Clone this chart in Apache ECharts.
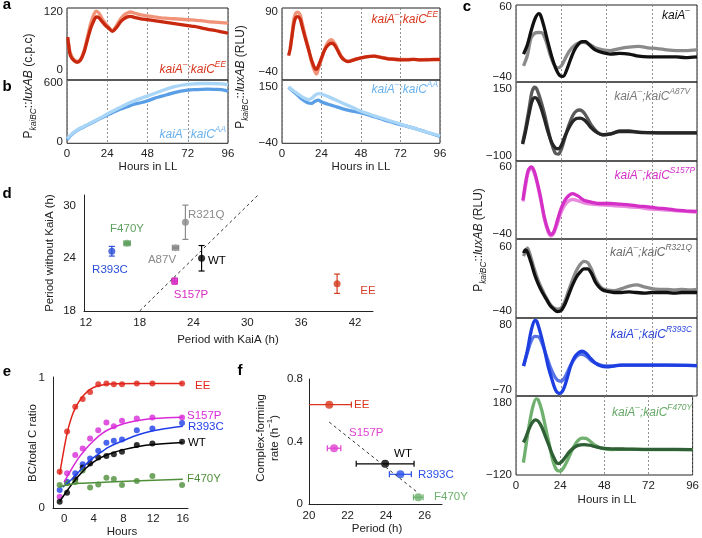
<!DOCTYPE html>
<html>
<head>
<meta charset="utf-8">
<script src="https://cdn.jsdelivr.net/npm/echarts@6/dist/echarts.min.js"></script>
<style>
  html, body { margin: 0; padding: 0; background: #fff; }
  #vis { width: 702px; height: 538px; }
</style>
</head>
<body>
<div id="vis"></div>
<script>
// ---- a / b : bioluminescence in LL, kaiA- strains ----
const eeCpcDark = [[0.5,68],[1,50],[2,30],[4,20],[6,16],[8,20],[10,35],[12,60],[14,85],[16,102],[17.5,110],[19,108],[21,100],[23,92],[25,86],[27,80],[28,82],[30,90],[32,100],[34,106],[36,110],[38,111],[40,109],[44,106],[48,104],[52,102],[56,100],[60,98],[64,96],[68,94],[72,92],[76,90],[80,87],[84,84],[88,82],[92,79],[96,76]]
const eeCpcLight = [[1,55],[2,35],[4,22],[6,18],[8,22],[10,38],[12,65],[14,95],[16,115],[17.5,122],[19,118],[21,106],[23,96],[25,88],[27,82],[28,84],[30,95],[32,106],[34,114],[36,118],[38,120],[40,118],[44,114],[48,112],[52,110],[56,108],[60,107],[64,106],[68,105],[72,104],[76,103],[80,102],[84,100],[88,99],[92,98],[96,97]]
const aaCpcMid = [[0,20],[2,60],[4,90],[6,115],[8,135],[12,170],[16,205],[20,240],[24,275],[28,305],[32,335],[36,360],[40,385],[44,400],[48,420],[52,445],[56,465],[60,485],[64,505],[68,520],[72,530],[76,535],[80,538],[84,540],[88,538],[92,535],[96,520]]
const aaCpcLight = [[0,30],[2,65],[4,95],[6,120],[8,140],[12,175],[16,210],[20,245],[24,285],[28,320],[32,355],[36,390],[40,420],[44,445],[48,470],[52,495],[56,520],[60,545],[64,565],[68,580],[72,590],[76,595],[80,598],[84,598],[88,596],[92,594],[96,585]]
const eeRluDark = [[4,-5],[5,10],[6,35],[7,60],[8,75],[9.5,80],[11,75],[12,62],[14,35],[16,10],[18,-15],[20,-33],[21,-35],[22,-28],[24,-10],[26,8],[28,18],[30,22],[32,18],[34,5],[36,-8],[38,-15],[40,-18],[44,-14],[48,-10],[52,-7],[56,-6],[60,-9],[64,-12],[68,-13],[72,-14],[76,-14],[80,-13],[84,-14],[88,-14],[92,-13],[96,-13]]
const eeRluLight = [[5,12],[6,40],[7,70],[8,85],[9.5,90],[11,84],[12,70],[14,40],[16,12],[18,-20],[20,-40],[21,-45],[22,-35],[24,-12],[26,10],[28,25],[30,30],[32,22],[34,8],[36,-6],[38,-14],[40,-17],[44,-13],[48,-10],[52,-7],[56,-6],[60,-8],[64,-11],[68,-12],[72,-13],[76,-13],[80,-13],[84,-14],[88,-13],[92,-14],[96,-14]]
const aaRluMid = [[4,150],[6,140],[8,130],[10,120],[12,110],[14,102],[16,96],[18,95],[20,102],[22,106],[24,100],[28,92],[32,85],[36,78],[40,72],[44,67],[48,62],[52,56],[56,49],[60,42],[64,35],[68,28],[72,22],[76,16],[80,10],[84,3],[88,-4],[92,-11],[96,-18]]
const aaRluLight = [[4,152],[6,142],[8,134],[10,126],[12,118],[14,112],[16,108],[18,112],[20,122],[22,128],[24,127],[28,118],[32,108],[36,98],[40,88],[44,78],[48,68],[52,60],[56,52],[60,45],[64,38],[68,31],[72,24],[76,17],[80,10],[84,3],[88,-4],[92,-10],[96,-17]]

// ---- c : kaiA- with kaiC point mutants ----
const kaiABlack = [[4,-8],[6,5],[8,25],[10,42],[12,50],[13,48],[15,30],[17,8],[19,-12],[21,-28],[23,-38],[25,-40],[27,-30],[29,-15],[31,-2],[33,6],[35,10],[37,10],[39,5],[42,-2],[46,-6],[50,-8],[55,-7],[60,-8],[65,-11],[70,-12],[75,-12],[80,-12],[85,-12],[90,-13],[96,-12]]
const kaiAGrey = [[4,-25],[6,-10],[8,15],[10,22],[12,23],[14,22],[16,10],[18,-8],[20,-22],[22,-28],[24,-25],[26,-15],[28,-5],[30,2],[33,8],[36,9],[39,6],[42,1],[46,-2],[50,-3],[55,0],[60,2],[65,3],[70,1],[75,0],[80,-2],[85,-3],[90,-3],[96,-2]]
const a87vGrey = [[3.5,-50],[5,0],[7,80],[8.5,140],[10,157],[11,150],[13,110],[15,60],[17,0],[19,-55],[21,-90],[22.5,-92],[24,-75],[26,-30],[28,15],[30,50],[32,68],[34,72],[36,62],[38,40],[40,15],[43,-10],[46,-20],[50,-18],[55,-6],[60,-6],[65,-10],[70,-12],[80,-13],[96,-13]]
const a87vBlack = [[3.5,-55],[5,-10],[7,60],[8.5,105],[10,118],[11,115],[13,85],[15,40],[17,-10],[19,-50],[21,-70],[22.5,-72],[24,-60],[26,-25],[28,5],[30,28],[32,40],[34,42],[36,36],[38,22],[40,5],[43,-12],[46,-20],[50,-17],[55,-8],[60,-8],[65,-11],[70,-12],[80,-13],[96,-13]]
const s157pDark = [[3.7,10],[5,35],[6.5,55],[8,60],[9.5,55],[11,40],[13,15],[15,-15],[17,-35],[18.5,-42],[20,-38],[22,-20],[24,-2],[26,10],[28,17],[30,20],[33,16],[36,10],[40,7],[45,5],[50,5],[55,4],[60,3],[65,1],[70,0],[75,-2],[80,-3],[85,-5],[90,-6],[96,-7]]
const s157pLight = [[3.7,8],[5,30],[6.5,52],[8,58],[9.5,52],[11,38],[13,12],[15,-18],[17,-38],[18.5,-44],[20,-40],[22,-25],[24,-8],[26,3],[28,9],[30,11],[33,9],[36,6],[40,4],[45,3],[50,2],[55,1],[60,0],[65,-1],[70,-3],[75,-4],[80,-5],[85,-6],[90,-7],[96,-8]]
const r321qBlack = [[4,50],[5,55],[6,52],[8,35],[10,15],[12,0],[14,-12],[16,-22],[18,-32],[20,-38],[22,-42],[24,-40],[26,-30],[28,-15],[30,0],[32,12],[34,20],[36,25],[38,25],[40,18],[42,5],[44,-3],[46,-8],[48,-10],[52,-12],[56,-12],[60,-11],[64,-12],[68,-13],[72,-12],[76,-12],[80,-12],[84,-13],[88,-12],[92,-12],[96,-12]]
const r321qGrey = [[4,45],[5,52],[6,58],[8,42],[10,22],[12,5],[14,-8],[16,-20],[18,-30],[20,-36],[22,-38],[24,-36],[26,-25],[28,-8],[30,8],[32,22],[34,32],[36,37],[38,35],[40,25],[42,10],[44,0],[46,-6],[48,-8],[52,-9],[56,-6],[60,-2],[64,0],[68,-3],[72,-6],[76,-7],[80,-7],[84,-8],[88,-7],[92,-8],[96,-7]]
const r393cHigh = [[4,-15],[6,20],[8,65],[10,90],[11,88],[13,60],[15,25],[17,-15],[19,-45],[21,-70],[23,-78],[25,-70],[27,-45],[29,-15],[31,5],[33,15],[35,19],[37,15],[39,5],[42,-8],[45,-15],[48,-17],[52,-15],[56,-13],[60,-13],[70,-13],[80,-13],[96,-14]]
const r393cLow = [[4,-15],[6,15],[8,42],[10,53],[12,52],[14,35],[16,10],[18,-15],[20,-35],[22,-48],[24,-50],[26,-40],[28,-22],[30,-5],[32,7],[34,12],[36,11],[38,5],[40,-3],[43,-10],[46,-14],[50,-15],[55,-13],[60,-13],[70,-13],[80,-13],[96,-14]]
const f470yLight = [[4,-70],[5,-20],[7,80],[9,160],[11,198],[12,195],[14,150],[16,80],[18,10],[20,-60],[22,-100],[24,-106],[26,-90],[28,-60],[30,-25],[32,5],[34,25],[36,33],[38,32],[40,22],[42,8],[45,-5],[48,-12],[52,-15],[56,-14],[60,-14],[70,-15],[80,-15],[96,-15]]
const f470yDark = [[4,15],[5,30],[7,70],[9,100],[10.5,110],[12,105],[14,80],[16,40],[18,0],[20,-40],[22,-70],[23,-74],[25,-65],[27,-45],[29,-25],[31,-10],[33,0],[35,5],[37,6],[40,3],[44,-5],[48,-10],[52,-12],[60,-13],[70,-14],[80,-14],[96,-15]]

// ---- d : period with / without KaiA ----
const dNames = ['R393C', 'F470Y', 'A87V', 'R321Q', 'WT', 'S157P', 'EE']
const dWithKaiA = [14.9, 16.6, 22.0, 23.1, 24.9, 21.9, 40.0]
const dWithoutKaiA = [24.8, 25.7, 25.2, 28.1, 24.0, 21.4, 21.1]
const dErrX = [0, 0.35, 0.35, 0, 0, 0.3, 0]
const dErrY = [0.55, 0.15, 0.1, 1.95, 1.45, 0.35, 1.1]
const dIdentity = [[18, 18], [31.2, 31.2]]

// ---- e : BC / total C ratio over time ----
const eHours = [-0.6, 0.4, 1.5, 2.5, 3.5, 4.6, 5.7, 6.7, 7.8, 9.8, 11.9, 15.9]
const eEE = [0.28, 0.59, 0.78, 0.84, 0.895, 0.955, 0.96, 0.955, 0.955, 0.96, 0.96, 0.96]
const eS157P = [0.087, 0.267, 0.408, 0.459, 0.536, 0.6, 0.659, 0.631, 0.672, 0.69, 0.697, 0.697]
const eR393C = [0.138, 0.203, 0.267, 0.338, 0.382, 0.441, 0.503, 0.518, 0.528, 0.6, 0.613, 0.656]
const eWT = [0.049, 0.118, 0.223, 0.313, 0.344, 0.39, 0.4, 0.415, 0.433, 0.485, 0.497, 0.51]
const eF470Y = [0.177, 0.19, 0.2, 0.29, 0.159, 0.182, 0.233, 0.223, 0.177, 0.208, 0.246, 0.177]
const eFitEE = [[-0.6,0.26],[0,0.46],[0.5,0.6],[1,0.7],[1.5,0.77],[2,0.82],[2.5,0.86],[3,0.89],[3.5,0.915],[4.5,0.94],[5.5,0.953],[7,0.958],[10,0.96],[16,0.96]]
const eFitS157P = [[0,0.2],[1,0.3],[2,0.39],[3,0.46],[4,0.52],[5,0.57],[6,0.605],[8,0.65],[10,0.675],[12,0.69],[16,0.7]]
const eFitR393C = [[-0.2,0.16],[1,0.22],[2,0.28],[3,0.34],[4,0.39],[5,0.43],[6,0.47],[8,0.52],[10,0.565],[12,0.595],[14,0.615],[16,0.63]]
const eFitWT = [[-0.6,0.05],[0,0.1],[1,0.18],[2,0.25],[3,0.31],[4,0.355],[5,0.39],[6,0.415],[8,0.45],[10,0.475],[12,0.49],[16,0.505]]
const eFitF470Y = [[-0.6,0.165],[0.5,0.18],[2,0.19],[6,0.2],[16,0.222]]

// ---- f : complex-forming rate vs period ----
const fNames = ['EE', 'S157P', 'WT', 'R393C', 'F470Y']
const fPeriod = [21.05, 21.3, 23.95, 24.74, 25.67]
const fRate = [0.636, 0.357, 0.257, 0.19, 0.043]
const fErr = [1.15, 0.35, 1.5, 0.57, 0.25]
const fTrend = [[21.05, 0.524], [25.58, 0.079]]

const FONT = '"Liberation Sans", Arial, sans-serif'
const TICK = 11.5
const LBL = 11.5
const minus = v => String(v).replace('-', '\u2212')

const grids = []
const xAxes = []
const yAxes = []
const series = []
const graphics = []

function addTsPanel (box, yRange, yTicks, lines, showX) {
  const i = grids.length
  grids.push({ left: box[0], top: box[1], width: box[2], height: box[3], show: true, borderColor: '#222', borderWidth: 1, backgroundColor: 'transparent' })
  xAxes.push({
    gridIndex: i, type: 'value', min: 0, max: 96, interval: 24,
    axisLine: { show: false }, axisTick: { show: false },
    axisLabel: { show: showX, fontSize: TICK, color: '#222', margin: 5, fontFamily: FONT },
    splitLine: { show: true, lineStyle: { type: [2, 2], color: '#777', width: 0.8 } }
  })
  yAxes.push({
    gridIndex: i, type: 'value', min: yRange[0], max: yRange[1],
    axisLine: { show: false }, axisTick: { show: false }, splitLine: { show: false },
    axisLabel: { customValues: yTicks, formatter: minus, fontSize: TICK, color: '#222', margin: 4, fontFamily: FONT }
  })
  lines.forEach(([data, color]) => {
    series.push({
      type: 'line', xAxisIndex: i, yAxisIndex: i, data, showSymbol: false, smooth: 0.3,
      lineStyle: { color, width: 3.3 }, itemStyle: { color }, silent: true
    })
  })
}

function plainAxes (i, xr, xTicks, yr, yTicks, marginX, marginY) {
  const base = {
    gridIndex: i, type: 'value',
    axisLine: { show: true, onZero: false, lineStyle: { color: '#222', width: 1 } },
    axisTick: { show: false }, splitLine: { show: false }
  }
  xAxes.push({ ...base, min: xr[0], max: xr[1], axisLabel: { customValues: xTicks, fontSize: TICK, color: '#222', margin: marginX, fontFamily: FONT } })
  yAxes.push({ ...base, min: yr[0], max: yr[1], axisLabel: { customValues: yTicks, fontSize: TICK, color: '#222', margin: marginY, fontFamily: FONT } })
}

function errorBars (params, api) {
  const x = api.value(0)
  const y = api.value(1)
  const ex = api.value(2)
  const ey = api.value(3)
  const col = api.visual('color')
  const st = { stroke: col, lineWidth: 1.2 }
  const left = params.coordSys.x
  const ch = []
  const cap = 3
  if (ey > 0) {
    const a = api.coord([x, y + ey])
    const b = api.coord([x, y - ey])
    ch.push({ type: 'line', shape: { x1: a[0], y1: a[1], x2: b[0], y2: b[1] }, style: st })
    ch.push({ type: 'line', shape: { x1: a[0] - cap, y1: a[1], x2: a[0] + cap, y2: a[1] }, style: st })
    ch.push({ type: 'line', shape: { x1: b[0] - cap, y1: b[1], x2: b[0] + cap, y2: b[1] }, style: st })
  }
  if (ex > 0) {
    const a = api.coord([x - ex, y])
    const b = api.coord([x + ex, y])
    const ax = Math.max(a[0], left)
    ch.push({ type: 'line', shape: { x1: ax, y1: a[1], x2: b[0], y2: b[1] }, style: st })
    if (a[0] >= left) ch.push({ type: 'line', shape: { x1: a[0], y1: a[1] - cap, x2: a[0], y2: a[1] + cap }, style: st })
    ch.push({ type: 'line', shape: { x1: b[0], y1: b[1] - cap, x2: b[0], y2: b[1] + cap }, style: st })
  }
  return { type: 'group', children: ch }
}

// text helpers
function txt (x, y, text, opts = {}) {
  graphics.push({
    type: 'text', x, y, rotation: opts.rot || 0, silent: true,
    style: {
      text, fill: opts.color || '#111', fontSize: opts.size || LBL, fontFamily: FONT,
      fontWeight: opts.weight || 'normal', fontStyle: opts.style || 'normal',
      align: opts.align || 'center', verticalAlign: 'middle', rich: opts.rich
    }
  })
}
function richFor (color, size) {
  return {
    n: { fill: color, fontSize: size, fontFamily: FONT, lineHeight: 18 },
    i: { fill: color, fontSize: size, fontFamily: FONT, fontStyle: 'italic', lineHeight: 18 },
    sup: { fill: color, fontSize: size * 0.7, fontFamily: FONT, fontStyle: 'italic', lineHeight: 9, verticalAlign: 'top' },
    sub: { fill: color, fontSize: size * 0.7, fontFamily: FONT, fontStyle: 'italic', lineHeight: 9, verticalAlign: 'bottom' }
  }
}
function strainLabel (x, y, mut, color) {
  const t = mut ? `{i|kaiA}{sup|\u2013}{i|;kaiC}{sup|${mut}}` : '{i|kaiA}{sup|\u2013}'
  txt(x, y, t, { align: 'right', rich: richFor(color, 12) })
}

// panels a / b
const redDark = '#c8290e'
const redLight = '#f09378'
const blueMid = '#5a9fe5'
const blueLight = '#a9d5f7'
addTsPanel([67, 8, 161, 72], [-20.8, 128.3], [0, 120], [[eeCpcLight, redLight], [eeCpcDark, redDark]], false)
addTsPanel([67, 80, 161, 63.3], [-17, 634], [0, 600], [[aaCpcMid, blueMid], [aaCpcLight, blueLight]], true)
addTsPanel([282, 8, 158, 72], [-58, 98.8], [-40, 90], [[eeRluLight, redLight], [eeRluDark, redDark]], false)
addTsPanel([282, 80, 158, 63.3], [-42, 175], [-40, 150], [[aaRluMid, blueMid], [aaRluLight, blueLight]], true)

// panel c
addTsPanel([516, 5, 181, 77], [-48, 62.4], [-40, 60], [[kaiAGrey, '#8a8a8a'], [kaiABlack, '#111']], false)
addTsPanel([516, 82, 181, 79], [-117.6, 176], [-100, 150], [[a87vGrey, '#5a5a5a'], [a87vBlack, '#262626']], false)
addTsPanel([516, 161, 181, 78], [-48.5, 69], [-40, 60], [[s157pLight, '#e889de'], [s157pDark, '#d42fc6']], false)
addTsPanel([516, 239, 181, 79], [-52, 72], [-40, 60], [[r321qGrey, '#8a8a8a'], [r321qBlack, '#111']], false)
addTsPanel([516, 318, 181, 78], [-84, 95.5], [-70, 80], [[r393cLow, '#5873e6'], [r393cHigh, '#1d3ee0']], false)
addTsPanel([516, 396, 181, 79], [-122, 210], [-120, 180], [[f470yLight, '#6fb06f'], [f470yDark, '#2f5f34']], true)

// panel d
const dColors = ['#2b4fd6', '#5f9f5f', '#8a8a8a', '#8a8a8a', '#000', '#d62cc0', '#d13b1e']
grids.push({ left: 84, top: 195, width: 289, height: 116 })
plainAxes(10, [11.8, 44], [12, 18, 24, 30, 36, 42], [18, 31.2], [18, 24, 30], 6, 8)
series.push({
  type: 'line', xAxisIndex: 10, yAxisIndex: 10, data: dIdentity, showSymbol: false, silent: true,
  lineStyle: { color: '#333', width: 1, type: [3, 3] }
})
series.push({
  type: 'custom', xAxisIndex: 10, yAxisIndex: 10, renderItem: errorBars, silent: true,
  data: dNames.map((n, k) => ({ value: [dWithKaiA[k], dWithoutKaiA[k], dErrX[k], dErrY[k]], itemStyle: { color: dColors[k] } }))
})
series.push({
  type: 'scatter', xAxisIndex: 10, yAxisIndex: 10, symbolSize: 7, silent: true,
  data: dNames.map((n, k) => ({ value: [dWithKaiA[k], dWithoutKaiA[k]], itemStyle: { color: dColors[k] } }))
})

// panel e
const eSets = [
  [eEE, eFitEE, '#e0241a'],
  [eS157P, eFitS157P, '#d82ad8'],
  [eR393C, eFitR393C, '#1f3ee8'],
  [eWT, eFitWT, '#000'],
  [eF470Y, eFitF470Y, '#4f8f3a']
]
grids.push({ left: 53, top: 377, width: 135, height: 131 })
plainAxes(11, [-1.5, 16.7], [0, 4, 8, 12, 16], [0, 1.01], [0, 1], 5, 8)
eSets.forEach(([pts, fit, color]) => {
  series.push({
    type: 'line', xAxisIndex: 11, yAxisIndex: 11, data: fit, showSymbol: false, smooth: 0.4, silent: true,
    lineStyle: { color, width: 1.5 }
  })
  series.push({
    type: 'scatter', xAxisIndex: 11, yAxisIndex: 11, symbolSize: 6, silent: true, itemStyle: { color },
    data: eHours.map((h, k) => [h, pts[k]])
  })
})

// panel f
const fColors = ['#d9341c', '#e040d0', '#000', '#2a50e8', '#6bb06b']
grids.push({ left: 309, top: 379, width: 133, height: 125 })
plainAxes(12, [20, 26.9], [20, 22, 24, 26], [0, 0.8], [0, 0.4, 0.8], 6, 6)
series.push({
  type: 'line', xAxisIndex: 12, yAxisIndex: 12, data: fTrend, showSymbol: false, silent: true,
  lineStyle: { color: '#333', width: 1, type: [3, 3] }
})
series.push({
  type: 'custom', xAxisIndex: 12, yAxisIndex: 12, renderItem: errorBars, silent: true,
  data: fNames.map((n, k) => ({ value: [fPeriod[k], fRate[k], fErr[k], 0], itemStyle: { color: fColors[k] } }))
})
series.push({
  type: 'scatter', xAxisIndex: 12, yAxisIndex: 12, symbolSize: 8, silent: true,
  data: fNames.map((n, k) => ({ value: [fPeriod[k], fRate[k]], itemStyle: { color: fColors[k] } }))
})

// panel letters
txt(7, 5, 'a', { size: 15, weight: 'bold', color: '#000' })
txt(7, 87, 'b', { size: 15, weight: 'bold', color: '#000' })
txt(467, 7, 'c', { size: 15, weight: 'bold', color: '#000' })
txt(7, 194, 'd', { size: 15, weight: 'bold', color: '#000' })
txt(7, 372, 'e', { size: 15, weight: 'bold', color: '#000' })
txt(240, 371, 'f', { size: 15, weight: 'bold', color: '#000' })

// axis titles
const yTitle = unit => `{n|P}{sub|kaiBC}{n|::}{i|luxAB}{n| (${unit})}`
txt(29, 86, yTitle('c.p.c'), { rot: Math.PI / 2, rich: richFor('#222', 12) })
txt(241, 77, yTitle('RLU'), { rot: Math.PI / 2, rich: richFor('#222', 12) })
txt(479, 240, yTitle('RLU'), { rot: Math.PI / 2, rich: richFor('#222', 12) })
txt(148, 167, 'Hours in LL', { color: '#222' })
txt(361, 167, 'Hours in LL', { color: '#222' })
txt(607, 500, 'Hours in LL', { color: '#222' })
txt(228, 340, 'Period with KaiA (h)', { color: '#222' })
txt(50, 253, 'Period without KaiA (h)', { color: '#222', rot: Math.PI / 2 })
txt(33, 443, 'BC/total C ratio', { color: '#222', rot: Math.PI / 2 })
txt(122, 532, 'Hours', { color: '#222' })
txt(261, 438, 'Complex-forming', { color: '#222', rot: Math.PI / 2 })
txt(275, 438, '{n|rate (h}{sup|\u22121}{n|)}', { rot: Math.PI / 2, rich: { ...richFor('#222', LBL), sup: { fill: '#222', fontSize: 8, fontFamily: FONT, lineHeight: 9, verticalAlign: 'top' } } })
txt(377, 529, 'Period (h)', { color: '#222' })

// strain labels
strainLabel(226, 70, 'EE', '#d8351c')
strainLabel(226, 135, 'AA', '#6ab2ee')
strainLabel(438, 20, 'EE', '#d8351c')
strainLabel(438, 90, 'AA', '#6ab2ee')
strainLabel(690, 16, null, '#111')
strainLabel(690, 97, 'A87V', '#7a7a7a')
strainLabel(695, 176, 'S157P', '#d42fc6')
strainLabel(692, 253, 'R321Q', '#6a6a6a')
strainLabel(692, 335, 'R393C', '#2a45d8')
strainLabel(692, 413, 'F470Y', '#66a866')

// d labels
txt(110, 270, 'R393C', { color: '#2b4fd6' })
txt(127, 229, 'F470Y', { color: '#5f9f5f' })
txt(162, 260, 'A87V', { color: '#8a8a8a' })
txt(188, 215, 'R321Q', { color: '#8a8a8a', align: 'left' })
txt(208, 261, 'WT', { color: '#000', align: 'left' })
txt(191, 295, 'S157P', { color: '#d62cc0' })
txt(368, 291, 'EE', { color: '#d9432a' })

// e labels
txt(195, 386, 'EE', { color: '#e0241a', align: 'left' })
txt(187, 416, 'S157P', { color: '#d82ad8', align: 'left' })
txt(188, 427, 'R393C', { color: '#1f3ee8', align: 'left' })
txt(188, 443, 'WT', { color: '#000', align: 'left' })
txt(187, 479, 'F470Y', { color: '#4f8f3a', align: 'left' })

// f labels
txt(354, 405, 'EE', { color: '#d9341c', align: 'left' })
txt(349, 433, 'S157P', { color: '#e040d0', align: 'left' })
txt(403, 454, 'WT', { color: '#000' })
txt(418, 475, 'R393C', { color: '#2a50e8', align: 'left' })
txt(434, 497, 'F470Y', { color: '#6bb06b', align: 'left' })

const chart = echarts.init(document.getElementById('vis'), null, { renderer: 'canvas' })
chart.setOption({
  animation: false,
  backgroundColor: '#fff',
  textStyle: { fontFamily: FONT },
  grid: grids,
  xAxis: xAxes,
  yAxis: yAxes,
  series,
  graphic: graphics
})
</script>
</body>
</html>
